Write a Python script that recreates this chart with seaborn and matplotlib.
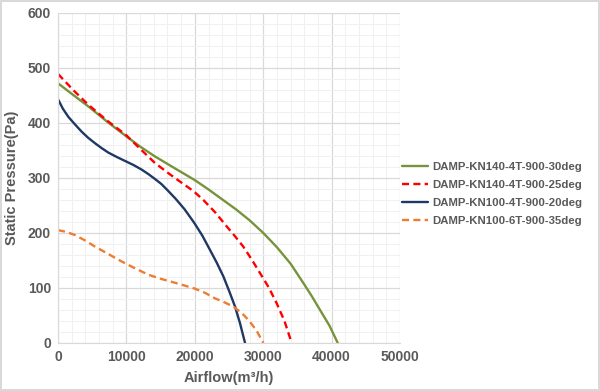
import matplotlib
matplotlib.use("Agg")
import matplotlib.pyplot as plt
from matplotlib.ticker import MultipleLocator
import seaborn as sns
import pandas as pd

# fan curves
kn140_30_x = [0, 2200, 4430, 7200, 9940, 12000, 14180, 17000, 20000, 22000, 24000, 26000,
              28000, 30000, 32000, 34000, 35860, 37100, 38300, 39700, 40890]
kn140_30_y = [472, 451, 430, 402, 376, 357, 339, 318, 296, 279, 261, 243,
              223, 200, 174, 144, 109, 85, 60, 31, 0]

kn140_25_x = [0, 2200, 4430, 7200, 9940, 12000, 14180, 16300, 18320, 19800, 21240, 23000,
              24650, 26000, 27090, 28300, 29530, 30800, 31970, 33100, 34160]
kn140_25_y = [489, 460, 433, 404, 378, 353, 327, 307, 289, 276, 260, 237,
              212, 192, 175, 152, 127, 101, 72, 40, 0]

kn100_20_x = [0, 700, 1510, 2500, 3460, 4400, 5410, 6400, 7360, 8600, 9940, 11100, 12240,
              13200, 14180, 15100, 15980, 17200, 18500, 19930, 21100, 22220, 23200, 24170,
              25000, 25880, 26600, 27340]
kn100_20_y = [443, 426, 411, 397, 384, 373, 363, 354, 346, 338, 330, 323, 315,
              307, 298, 289, 278, 262, 243, 218, 195, 169, 146, 121,
              95, 66, 36, 0]

kn100_35_x = [0, 1200, 2490, 4000, 5410, 7300, 9310, 11200, 13200, 14900, 16620, 18300,
              19930, 21500, 22950, 24300, 25630, 26800, 27820, 29000, 30010]
kn100_35_y = [205, 202, 196, 186, 175, 162, 148, 136, 124, 117, 111, 105,
              99, 91, 81, 74, 66, 55, 42, 23, 0]

labels = ["DAMP-KN140-4T-900-30deg", "DAMP-KN140-4T-900-25deg",
          "DAMP-KN100-4T-900-20deg", "DAMP-KN100-6T-900-35deg"]
colors = ["#77933C", "#FF0000", "#1F3864", "#ED7D31"]
dashes = [False, True, False, True]

series = [(kn140_30_x, kn140_30_y), (kn140_25_x, kn140_25_y),
          (kn100_20_x, kn100_20_y), (kn100_35_x, kn100_35_y)]

sns.set_style("white")
plt.rcParams["font.family"] = ["Liberation Sans", "DejaVu Sans"]
plt.rcParams["font.weight"] = "bold"

fig = plt.figure(figsize=(6, 3.91), dpi=100)
fig.patch.set_edgecolor("#D9D9D9")
fig.patch.set_linewidth(1.5)
ax = fig.add_axes([0.0967, 0.123, 0.57, 0.844])

for (xs, ys), lab, col, dsh in zip(series, labels, colors, dashes):
    df = pd.DataFrame({"x": xs, "y": ys})
    sns.lineplot(data=df, x="x", y="y", ax=ax, color=col, linewidth=1.7,
                 label=lab, sort=False, estimator=None)
    if dsh:
        ax.lines[-1].set_dashes([3, 1.8])

ax.set_xlim(0, 50000)
ax.set_ylim(0, 600)
ax.xaxis.set_major_locator(MultipleLocator(10000))
ax.xaxis.set_minor_locator(MultipleLocator(2000))
ax.yaxis.set_major_locator(MultipleLocator(100))
ax.yaxis.set_minor_locator(MultipleLocator(20))
ax.grid(which="major", color="#D9D9D9", linewidth=0.9)
ax.grid(which="minor", color="#F0F0F0", linewidth=0.7)
ax.set_axisbelow(True)
for side in ["top", "right"]:
    ax.spines[side].set_visible(False)
for side in ["left", "bottom"]:
    ax.spines[side].set_color("#D9D9D9")
ax.tick_params(which="both", length=0, labelsize=10, labelcolor="#595959", pad=5)

ax.set_xlabel("Airflow(m³/h)", fontsize=10.5, color="#595959", fontweight="bold", labelpad=5)
ax.set_ylabel("Static Pressure(Pa)", fontsize=10.5, color="#595959", fontweight="bold", labelpad=6)

leg = ax.legend(loc="center left", bbox_to_anchor=(1.0, 0.45), frameon=False,
                borderaxespad=0, borderpad=0.2, fontsize=8.2, handlelength=2.3,
                handletextpad=0.3, labelspacing=0.7)
for t in leg.get_texts():
    t.set_color("#595959")
    t.set_fontweight("bold")

fig.savefig("out.png", dpi=100)
